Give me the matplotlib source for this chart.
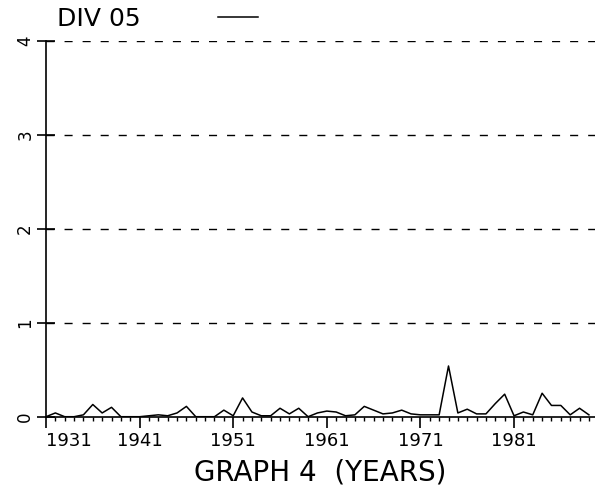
import numpy as np
import matplotlib as mpl
mpl.use('Agg')
import matplotlib.pyplot as plt

plt.rcParams.update({
    "font.family": "DejaVu Sans",
})

# DIV 05, one value per year
years = np.arange(1931, 1990)
div05 = [0.00, 0.04, 0.00, 0.00, 0.02, 0.13, 0.04, 0.10, 0.00, 0.00,
         0.00, 0.01, 0.02, 0.01, 0.04, 0.11, 0.00, 0.00, 0.00, 0.07,
         0.01, 0.20, 0.05, 0.01, 0.01, 0.09, 0.03, 0.09, 0.00, 0.04,
         0.06, 0.05, 0.01, 0.02, 0.11, 0.07, 0.03, 0.04, 0.07, 0.03,
         0.02, 0.02, 0.02, 0.54, 0.04, 0.08, 0.03, 0.03, 0.14, 0.24,
         0.01, 0.05, 0.02, 0.25, 0.12, 0.12, 0.02, 0.09, 0.02]
year_ticks = [1931, 1941, 1951, 1961, 1971, 1981]
y_ticks = [0, 1, 2, 3, 4]

fig = plt.figure(figsize=(5.95, 4.91), dpi=100)
ax = fig.add_axes([0.0773, 0.1513, 0.9227, 0.7652])

for v in y_ticks[1:]:
    ax.axhline(v, color='black', lw=1.0, ls=(0, (5.8, 7.2)), zorder=1)

ax.plot(years, div05, color='black', lw=1.1, label='DIV 05', zorder=3)

ax.set_xlim(1931, 1989.65)
ax.set_ylim(0, 4)
ax.spines['top'].set_visible(False)
ax.spines['right'].set_visible(False)
ax.spines['left'].set_linewidth(1.2)
ax.spines['bottom'].set_linewidth(1.2)
ax.set_clip_on(False)

ax.set_xticks(year_ticks)
ax.set_xticks(years, minor=True)
ax.set_xticklabels([str(y) for y in year_ticks], fontsize=13)
ax.get_xticklabels()[0].set_horizontalalignment('left')
ax.tick_params(axis='x', which='major', direction='out', length=8, width=1.2, pad=3)
ax.tick_params(axis='x', which='minor', direction='out', length=3, width=1.0)

ax.set_yticks(y_ticks)
ax.set_yticklabels([str(v) for v in y_ticks], fontsize=12, rotation=90, va='center')
ax.tick_params(axis='y', direction='inout', length=13, width=1.2, pad=2)

ax.set_xlabel('GRAPH 4  (YEARS)', fontsize=20, labelpad=6)

ax.legend(loc='center left', bbox_to_anchor=(0.0958, 0.961),
          bbox_transform=fig.transFigure, frameon=False, fontsize=18,
          markerfirst=False, handlelength=1.6, handletextpad=3.1,
          borderpad=0, borderaxespad=0)

plt.savefig('out.png', dpi=100)
plt.close()
